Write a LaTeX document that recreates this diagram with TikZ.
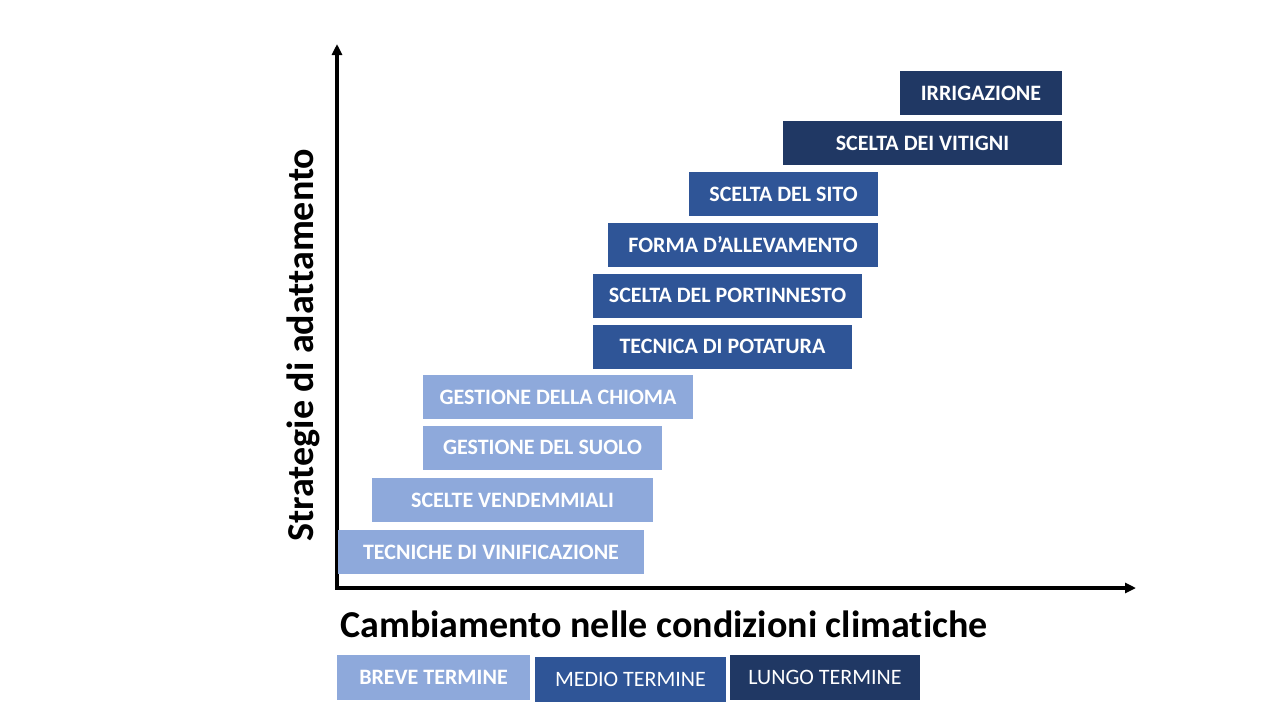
\documentclass[tikz,border=0pt]{standalone}
\usepackage{fontspec}
\setmainfont[Ligatures=NoCommon]{Carlito}
\usepackage{tikz}
\usetikzlibrary{arrows.meta,positioning}

\definecolor{breve}{HTML}{8EA9DB}
\definecolor{medio}{HTML}{2F5597}
\definecolor{lungo}{HTML}{203864}

\begin{document}
\begin{tikzpicture}[x=1pt,y=-1pt,
    bar/.style={minimum height=44pt, inner sep=0pt, text=white, font=\fontsize{22}{24}\selectfont\bfseries},
    legend/.style={minimum height=45pt, inner sep=0pt, text=white, font=\fontsize{22}{24}\selectfont},
    axis/.style={line width=3.2pt, -{Triangle[length=11pt,width=10pt]}},
    axislabel/.style={font=\fontsize{38}{40}\selectfont\bfseries}]
\useasboundingbox (0,0) rectangle (1280,720);

% axes
\coordinate (origin) at (337,588);
\coordinate (ytop) at (337,44);
\coordinate (xend) at (1136,588);
\draw[axis] ([yshift=1.6pt]origin) -- (ytop);
\draw[axis] ([xshift=-1.6pt]origin) -- (xend);
\node[axislabel, rotate=90] (ylabel) at (303,345) {Strategie di adattamento};
\node[axislabel] (xlabel) at (664,624) {Cambiamento nelle condizioni climatiche};

% strategie
\node[bar, fill=lungo, minimum width=162pt] (irrig) at (981,93) {IRRIGAZIONE};
\node[bar, fill=lungo, minimum width=279pt] (vitigni) at (922.5,143) {SCELTA DEI VITIGNI};
\node[bar, fill=medio, minimum width=189pt] (sito) at (783.5,194) {SCELTA DEL SITO};
\node[bar, fill=medio, minimum width=270pt] (forma) at (743,244.5) {FORMA D’ALLEVAMENTO};
\node[bar, fill=medio, minimum width=269pt] (portinn) at (727.5,295.5) {SCELTA DEL PORTINNESTO};
\node[bar, fill=medio, minimum width=259pt] (potatura) at (722.5,346.5) {TECNICA DI POTATURA};
\node[bar, fill=breve, minimum width=270pt] (chioma) at (558,397) {GESTIONE DELLA CHIOMA};
\node[bar, fill=breve, minimum width=239pt] (suolo) at (542.5,447.5) {GESTIONE DEL SUOLO};
\node[bar, fill=breve, minimum width=281pt] (vendem) at (512.5,500) {SCELTE VENDEMMIALI};
\node[bar, fill=breve, minimum width=306pt] (vinif) at (491,552) {TECNICHE DI VINIFICAZIONE};

% legenda
\node[legend, fill=breve, minimum width=193pt, font=\fontsize{22}{24}\selectfont\bfseries] (breveT) at (433.5,677.5) {BREVE TERMINE};
\node[legend, fill=medio, minimum width=191pt] (medioT) at (630.5,679) {MEDIO TERMINE};
\node[legend, fill=lungo, minimum width=190pt] (lungoT) at (825,677.5) {LUNGO TERMINE};
\end{tikzpicture}
\end{document}
